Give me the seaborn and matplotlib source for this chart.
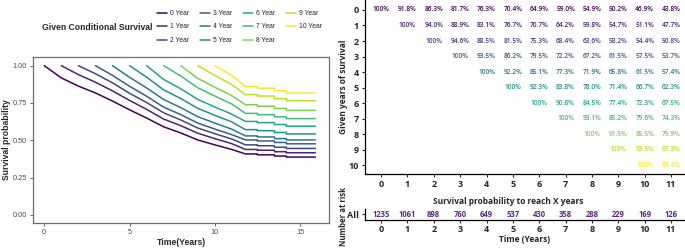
import matplotlib
matplotlib.use("Agg")
import matplotlib.pyplot as plt
import numpy as np
import pandas as pd
import seaborn as sns

# conditional survival (%) - row = years already survived, values start at that year
given_years = list(range(11))
reach_years = list(range(12))
cond_surv = [
    [100, 91.8, 86.3, 81.7, 76.3, 70.4, 64.9, 59.0, 54.9, 50.2, 46.9, 43.8],
    [100, 94.0, 88.9, 83.1, 76.7, 70.7, 64.2, 59.8, 54.7, 51.1, 47.7],
    [100, 94.6, 88.5, 81.5, 75.3, 68.4, 63.6, 58.2, 54.4, 50.8],
    [100, 93.5, 86.2, 79.5, 72.2, 67.2, 61.5, 57.5, 53.7],
    [100, 92.2, 85.1, 77.3, 71.9, 65.8, 61.5, 57.4],
    [100, 92.3, 83.8, 78.0, 71.4, 66.7, 62.3],
    [100, 90.8, 84.5, 77.4, 72.3, 67.5],
    [100, 93.1, 85.2, 79.6, 74.3],
    [100, 91.5, 85.5, 79.9],
    [100, 93.5, 87.3],
    [100, 93.4],
]

# curve tails after year 11: level reached at 11.8,
# then drops at 12.5, 13.5 and 14.2, flat until follow-up ends
tail_times = [11.8, 12.5, 13.5, 14.2]
end_time = 15.9
tail_levels = [
    [0.408, 0.402, 0.394, 0.387],
    [0.438, 0.433, 0.423, 0.416],
    [0.469, 0.463, 0.453, 0.445],
    [0.502, 0.495, 0.485, 0.476],
    [0.529, 0.522, 0.511, 0.502],
    [0.571, 0.564, 0.552, 0.542],
    [0.626, 0.618, 0.605, 0.594],
    [0.680, 0.671, 0.657, 0.645],
    [0.738, 0.728, 0.713, 0.700],
    [0.806, 0.796, 0.779, 0.765],
    [0.860, 0.849, 0.831, 0.816],
]

at_risk = [1235, 1061, 898, 760, 649, 537, 430, 358, 288, 229, 169, 126]

group_names = [f"{k} Year" for k in given_years]
colors = [plt.cm.viridis(k / 10) for k in given_years]

# long table for seaborn
rows = []
for k in given_years:
    name = group_names[k]
    for j, v in enumerate(cond_surv[k]):
        rows.append({"time": k + j, "surv": v / 100, "group": name})
    lv = tail_levels[k]
    rows.append({"time": tail_times[0], "surv": lv[0], "group": name})
    for i in range(1, len(tail_times)):
        rows.append({"time": tail_times[i], "surv": lv[i - 1], "group": name})
        rows.append({"time": tail_times[i], "surv": lv[i], "group": name})
    rows.append({"time": end_time, "surv": lv[-1], "group": name})
df = pd.DataFrame(rows)

sns.set_style("white")
plt.rcParams["font.family"] = ["Liberation Sans", "DejaVu Sans"]

W, H = 685, 249
fig = plt.figure(figsize=(W / 100, H / 100), dpi=100)

# ---------------- left: conditional survival curves ----------------
ax = fig.add_axes([33 / W, 1 - 223 / H, 296 / W, 166 / H])
sns.lineplot(data=df, x="time", y="surv", hue="group", hue_order=group_names,
             palette=colors, estimator=None, sort=False, linewidth=1.1, ax=ax)
ax.set_xlim(-0.66, 16.7)
ax.set_ylim(-0.055, 1.058)
ax.set_xticks([0, 5, 10, 15])
ax.set_yticks([0, 0.25, 0.5, 0.75, 1.0])
ax.set_yticklabels([f"{v:.2f}" for v in [0, 0.25, 0.5, 0.75, 1.0]])
ax.tick_params(labelsize=5.3, colors="#4d4d4d", length=2.5, width=0.6, pad=2,
               bottom=True, left=True)
for sp in ax.spines.values():
    sp.set_color("#6e6e6e")
    sp.set_linewidth(0.9)
ax.set_xlabel("Time(Years)", fontsize=6.2, fontweight="bold", labelpad=1)
ax.set_ylabel("Survival probability", fontsize=6.2, fontweight="bold", labelpad=1)

handles, labels = ax.get_legend_handles_labels()
ax.get_legend().remove()
fig.legend(handles, labels, ncol=4, loc="center left",
           bbox_to_anchor=(157 / W, 1 - 27 / H), frameon=False, fontsize=4.9,
           handlelength=1.4, handletextpad=0.5, columnspacing=1.6,
           labelspacing=0.95, borderpad=0, borderaxespad=0)
fig.text(152 / W, 1 - 27 / H, "Given Conditional Survival", ha="right",
         va="center", fontsize=6.2, fontweight="bold")

# ---------------- right: conditional survival table ----------------
tfont = ["Open Sans", "DejaVu Sans"]
ax2 = fig.add_axes([365 / W, 1 - 174 / H, (W - 365) / W, 174 / H])
ax2.set_xlim(-0.61, 11.53)
ax2.set_ylim(10.58, -0.645)
for k in given_years:
    for j, v in enumerate(cond_surv[k]):
        txt = "100%" if v == 100 else f"{v:.1f}%"
        ax2.text(k + j, k, txt, ha="center", va="center", fontsize=4.8,
                 fontweight="semibold", color=colors[k], family=tfont)
ax2.set_xticks(reach_years)
ax2.set_yticks(given_years)
ax2.tick_params(labelsize=6.5, length=2.5, width=0.8, pad=2, bottom=True, left=True)
for lab in ax2.get_xticklabels() + ax2.get_yticklabels():
    lab.set_fontweight("bold")
    lab.set_family(tfont)
for s in ["top", "right"]:
    ax2.spines[s].set_visible(False)
for s in ["left", "bottom"]:
    ax2.spines[s].set_color("black")
    ax2.spines[s].set_linewidth(0.9)
ax2.set_xlabel("Survival probability to reach X years", fontsize=6,
               fontweight="bold", family=tfont)
ax2.xaxis.set_label_coords((508 - 365) / (W - 365), -(197 - 174) / 174)
ax2.set_ylabel("Given years of survival", fontsize=6, fontweight="bold",
               family=tfont)
ax2.yaxis.set_label_coords(-(365 - 348) / (W - 365), 0.5)

# ---------------- right bottom: number at risk ----------------
ax3 = fig.add_axes([365 / W, 1 - 219.5 / H, (W - 365) / W, 10.5 / H])
ax3.set_xlim(-0.61, 11.53)
ax3.set_ylim(-0.5, 0.5)
for j, n in enumerate(at_risk):
    ax3.text(reach_years[j], 0, str(n), ha="center", va="center", fontsize=5.5,
             fontweight="bold", color="#5b2a86", family=tfont)
ax3.set_xticks(reach_years)
ax3.set_yticks([0])
ax3.set_yticklabels(["All"])
ax3.tick_params(labelsize=6.5, length=2.5, width=0.8, pad=1.5, bottom=True, left=True)
for lab in ax3.get_xticklabels() + ax3.get_yticklabels():
    lab.set_fontweight("bold")
    lab.set_family(tfont)
for s in ["top", "right"]:
    ax3.spines[s].set_visible(False)
for s in ["left", "bottom"]:
    ax3.spines[s].set_color("black")
    ax3.spines[s].set_linewidth(0.9)
ax3.set_xlabel("Time (Years)", fontsize=6, fontweight="bold", family=tfont,
               labelpad=0.5)
ax3.set_ylabel("Number at risk", fontsize=5.6, fontweight="bold", family=tfont)
ax3.yaxis.set_label_coords(-(365 - 348) / (W - 365), 0.3)

fig.savefig("out.png", dpi=100)
